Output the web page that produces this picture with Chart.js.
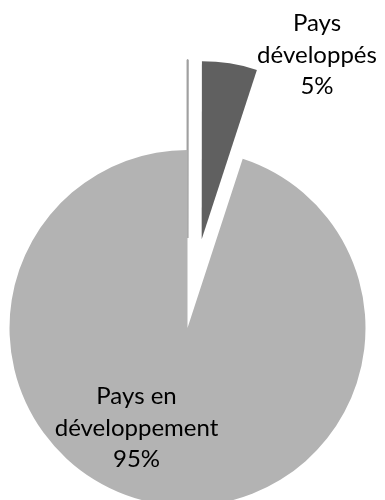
<!DOCTYPE html>
<html>
<head>
<meta charset="utf-8">
<script src="https://cdn.jsdelivr.net/npm/chart.js@4"></script>
<style>
    html, body { margin: 0; padding: 0; background: #fff; }
    #wrap { width: 385px; height: 500px; position: relative; }
</style>
</head>
<body>
<div id="wrap"><canvas id="shareChart"></canvas></div>
<script>
// slices, in drawing order (clockwise from 12 o'clock)
const categories = ['', 'Pays développés', 'Pays en développement'];
const shares = [0.02, 5, 95];
const labelLines = [[], ['Pays', 'développés'], ['Pays en', 'développement']];
const sliceColors = ['#a9a9a9', '#606060', '#b3b3b3'];

// how far each slice is pulled out of the pie, in px
const explodePx = [90, 90, 0];
// where each data label sits, relative to its (pulled out) slice
const labelPlace = [null, { turn: 23, dist: 1.22 }, { turn: 18, dist: 0.63 }];

// the built-in arc offset also narrows and enlarges small slices,
// so pull the slices out by moving their centre instead
const explodeSlices = {
    id: 'explodeSlices',
    afterDatasetUpdate(chart, args) {
        args.meta.data.forEach((arc, i) => {
            const d = explodePx[i] || 0;
            const mid = (arc.startAngle + arc.endAngle) / 2;
            arc.x += Math.cos(mid) * d;
            arc.y += Math.sin(mid) * d;
        });
    }
};

const sliceLabels = {
    id: 'sliceLabels',
    afterDatasetsDraw(chart) {
        const ctx = chart.ctx;
        const meta = chart.getDatasetMeta(0);
        const r = meta.controller.outerRadius;
        ctx.save();
        ctx.font = '24px Lato';
        ctx.fillStyle = '#000';
        ctx.textAlign = 'center';
        ctx.textBaseline = 'middle';
        meta.data.forEach((arc, i) => {
            const place = labelPlace[i];
            if (!place) return;
            const mid = (arc.startAngle + arc.endAngle) / 2;
            const a = mid + place.turn * Math.PI / 180;
            const lx = arc.x + Math.cos(a) * r * place.dist;
            const ly = arc.y + Math.sin(a) * r * place.dist;
            const lines = [...labelLines[i], shares[i] + '%'];
            lines.forEach((t, k) => {
                ctx.fillText(t, lx, ly + (k - (lines.length - 1) / 2) * 31.5);
            });
        });
        ctx.restore();
    }
};

const ctx = document.getElementById('shareChart').getContext('2d');
new Chart(ctx, {
    type: 'pie',
    data: {
        labels: categories,
        datasets: [{
            data: shares,
            backgroundColor: sliceColors,
            borderColor: ['#a0a0a0', '#ffffff', '#ffffff'],
            borderWidth: [2, 0, 0],
            clip: false
        }]
    },
    options: {
        responsive: true,
        maintainAspectRatio: false,
        animation: false,
        radius: 178,
        cutout: '0%',
        layout: {
            padding: { top: 156, right: 10 }
        },
        plugins: {
            legend: { display: false },
            tooltip: { enabled: false }
        }
    },
    plugins: [explodeSlices, sliceLabels]
});
</script>
</body>
</html>
